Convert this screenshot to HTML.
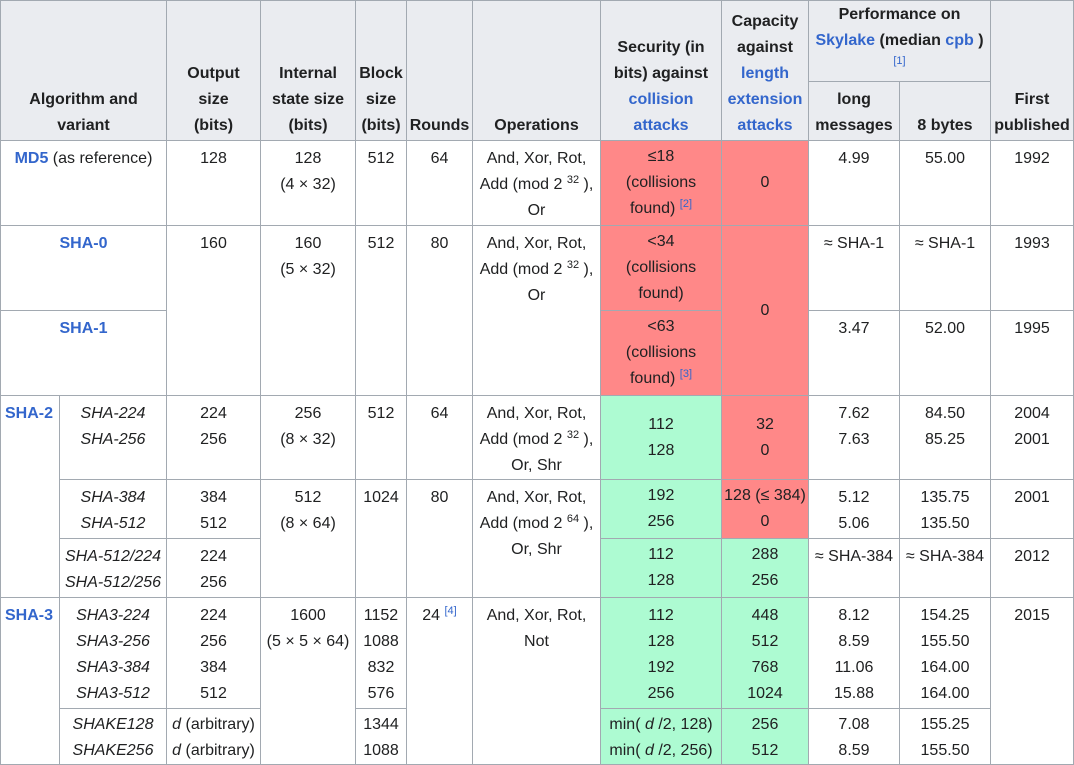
<!DOCTYPE html>
<html><head><meta charset="utf-8">
<style>
body{margin:0;width:1074px;height:764px;overflow:hidden;background:#fff;font-family:"Liberation Sans",sans-serif;font-size:16px;color:#202122}
.c{position:absolute;box-sizing:border-box;border:1px solid #a2a9b1;text-align:center;line-height:26px;padding:5px 2px 0;overflow:hidden;white-space:nowrap}
.h{background:#eaecf0;font-weight:bold;display:flex;flex-direction:column;justify-content:flex-end;padding:0 2px 1px}
.m{display:flex;flex-direction:column;justify-content:center;padding:0 2px}
.r{background:#ff8888}
.g{background:#adfbd2}
a{color:#3366cc;text-decoration:none}
b a,a.b{font-weight:bold}
sup{font-size:11px;line-height:0;vertical-align:6px}
sup a{font-weight:normal}
i{font-style:italic}
</style></head><body>
<!-- header -->
<div class="c h" style="left:0;top:0;width:167px;height:141px">Algorithm and<br>variant</div>
<div class="c h" style="left:166px;top:0;width:95px;height:141px">Output<br>size<br>(bits)</div>
<div class="c h" style="left:260px;top:0;width:96px;height:141px">Internal<br>state size<br>(bits)</div>
<div class="c h" style="left:355px;top:0;width:52px;height:141px">Block<br>size<br>(bits)</div>
<div class="c h" style="left:406px;top:0;width:67px;height:141px">Rounds</div>
<div class="c h" style="left:472px;top:0;width:129px;height:141px">Operations</div>
<div class="c h" style="left:600px;top:0;width:122px;height:141px"><span>Security (in</span><span>bits) against</span><a href="#">collision</a><a href="#">attacks</a></div>
<div class="c h" style="left:721px;top:0;width:88px;height:141px"><span>Capacity</span><span>against</span><a href="#">length</a><a href="#">extension</a><a href="#">attacks</a></div>
<div class="c h" style="left:808px;top:0;width:183px;height:82px;justify-content:flex-start;padding-top:1px"><span>Performance on</span><span><a href="#">Skylake</a> (median <a href="#">cpb</a> )</span><span style="font-size:11px;font-weight:normal;line-height:14px"><a href="#">[1]</a></span></div>
<div class="c h" style="left:808px;top:81px;width:92px;height:60px">long<br>messages</div>
<div class="c h" style="left:899px;top:81px;width:92px;height:60px">8 bytes</div>
<div class="c h" style="left:990px;top:0;width:84px;height:141px">First<br>published</div>

<!-- MD5 -->
<div class="c" style="left:0;top:140px;width:167px;height:86px"><a class="b" href="#">MD5</a> (as reference)</div>
<div class="c" style="left:166px;top:140px;width:95px;height:86px">128</div>
<div class="c" style="left:260px;top:140px;width:96px;height:86px">128<br>(4 × 32)</div>
<div class="c" style="left:355px;top:140px;width:52px;height:86px">512</div>
<div class="c" style="left:406px;top:140px;width:67px;height:86px">64</div>
<div class="c" style="left:472px;top:140px;width:129px;height:86px">And, Xor, Rot,<br>Add (mod 2 <sup>32</sup> ),<br>Or</div>
<div class="c m r" style="left:600px;top:140px;width:122px;height:86px">≤18<br>(collisions<br><span>found) <sup><a href="#">[2]</a></sup></span></div>
<div class="c m r" style="left:721px;top:140px;width:88px;height:86px">0</div>
<div class="c" style="left:808px;top:140px;width:92px;height:86px">4.99</div>
<div class="c" style="left:899px;top:140px;width:92px;height:86px">55.00</div>
<div class="c" style="left:990px;top:140px;width:84px;height:86px">1992</div>

<!-- SHA-0 / SHA-1 -->
<div class="c" style="left:0;top:225px;width:167px;height:86px"><a class="b" href="#">SHA-0</a></div>
<div class="c" style="left:0;top:310px;width:167px;height:86px"><a class="b" href="#">SHA-1</a></div>
<div class="c" style="left:166px;top:225px;width:95px;height:171px">160</div>
<div class="c" style="left:260px;top:225px;width:96px;height:171px">160<br>(5 × 32)</div>
<div class="c" style="left:355px;top:225px;width:52px;height:171px">512</div>
<div class="c" style="left:406px;top:225px;width:67px;height:171px">80</div>
<div class="c" style="left:472px;top:225px;width:129px;height:171px">And, Xor, Rot,<br>Add (mod 2 <sup>32</sup> ),<br>Or</div>
<div class="c m r" style="left:600px;top:225px;width:122px;height:86px">&lt;34<br>(collisions<br>found)</div>
<div class="c m r" style="left:600px;top:310px;width:122px;height:86px">&lt;63<br>(collisions<br><span>found) <sup><a href="#">[3]</a></sup></span></div>
<div class="c m r" style="left:721px;top:225px;width:88px;height:171px">0</div>
<div class="c" style="left:808px;top:225px;width:92px;height:86px">≈ SHA-1</div>
<div class="c" style="left:899px;top:225px;width:92px;height:86px">≈ SHA-1</div>
<div class="c" style="left:990px;top:225px;width:84px;height:86px">1993</div>
<div class="c" style="left:808px;top:310px;width:92px;height:86px">3.47</div>
<div class="c" style="left:899px;top:310px;width:92px;height:86px">52.00</div>
<div class="c" style="left:990px;top:310px;width:84px;height:86px">1995</div>

<!-- SHA-2 -->
<div class="c" style="left:0;top:395px;width:60px;height:203px;text-align:left;padding-left:4px"><a class="b" href="#">SHA-2</a></div>
<div class="c" style="left:59px;top:395px;width:108px;height:85px"><i>SHA-224<br>SHA-256</i></div>
<div class="c" style="left:166px;top:395px;width:95px;height:85px">224<br>256</div>
<div class="c" style="left:260px;top:395px;width:96px;height:85px">256<br>(8 × 32)</div>
<div class="c" style="left:355px;top:395px;width:52px;height:85px">512</div>
<div class="c" style="left:406px;top:395px;width:67px;height:85px">64</div>
<div class="c" style="left:472px;top:395px;width:129px;height:85px">And, Xor, Rot,<br>Add (mod 2 <sup>32</sup> ),<br>Or, Shr</div>
<div class="c m g" style="left:600px;top:395px;width:122px;height:85px">112<br>128</div>
<div class="c m r" style="left:721px;top:395px;width:88px;height:85px">32<br>0</div>
<div class="c" style="left:808px;top:395px;width:92px;height:85px">7.62<br>7.63</div>
<div class="c" style="left:899px;top:395px;width:92px;height:85px">84.50<br>85.25</div>
<div class="c" style="left:990px;top:395px;width:84px;height:85px">2004<br>2001</div>

<div class="c" style="left:59px;top:479px;width:108px;height:60px"><i>SHA-384<br>SHA-512</i></div>
<div class="c" style="left:166px;top:479px;width:95px;height:60px">384<br>512</div>
<div class="c" style="left:260px;top:479px;width:96px;height:119px">512<br>(8 × 64)</div>
<div class="c" style="left:355px;top:479px;width:52px;height:119px">1024</div>
<div class="c" style="left:406px;top:479px;width:67px;height:119px">80</div>
<div class="c" style="left:472px;top:479px;width:129px;height:119px">And, Xor, Rot,<br>Add (mod 2 <sup>64</sup> ),<br>Or, Shr</div>
<div class="c m g" style="left:600px;top:479px;width:122px;height:60px">192<br>256</div>
<div class="c m r" style="left:721px;top:479px;width:88px;height:60px">128 (≤ 384)<br>0</div>
<div class="c" style="left:808px;top:479px;width:92px;height:60px">5.12<br>5.06</div>
<div class="c" style="left:899px;top:479px;width:92px;height:60px">135.75<br>135.50</div>
<div class="c" style="left:990px;top:479px;width:84px;height:60px">2001</div>

<div class="c" style="left:59px;top:538px;width:108px;height:60px"><i>SHA-512/224<br>SHA-512/256</i></div>
<div class="c" style="left:166px;top:538px;width:95px;height:60px">224<br>256</div>
<div class="c m g" style="left:600px;top:538px;width:122px;height:60px">112<br>128</div>
<div class="c m g" style="left:721px;top:538px;width:88px;height:60px">288<br>256</div>
<div class="c" style="left:808px;top:538px;width:92px;height:60px">≈ SHA-384</div>
<div class="c" style="left:899px;top:538px;width:92px;height:60px">≈ SHA-384</div>
<div class="c" style="left:990px;top:538px;width:84px;height:60px">2012</div>

<!-- SHA-3 -->
<div class="c" style="left:0;top:597px;width:60px;height:168px;text-align:left;padding-left:4px"><a class="b" href="#">SHA-3</a></div>
<div class="c" style="left:59px;top:597px;width:108px;height:112px"><i>SHA3-224<br>SHA3-256<br>SHA3-384<br>SHA3-512</i></div>
<div class="c" style="left:166px;top:597px;width:95px;height:112px">224<br>256<br>384<br>512</div>
<div class="c" style="left:260px;top:597px;width:96px;height:168px">1600<br>(5 × 5 × 64)</div>
<div class="c" style="left:355px;top:597px;width:52px;height:112px">1152<br>1088<br>832<br>576</div>
<div class="c" style="left:406px;top:597px;width:67px;height:168px">24 <sup><a href="#">[4]</a></sup></div>
<div class="c" style="left:472px;top:597px;width:129px;height:168px">And, Xor, Rot,<br>Not</div>
<div class="c g" style="left:600px;top:597px;width:122px;height:112px">112<br>128<br>192<br>256</div>
<div class="c g" style="left:721px;top:597px;width:88px;height:112px">448<br>512<br>768<br>1024</div>
<div class="c" style="left:808px;top:597px;width:92px;height:112px">8.12<br>8.59<br>11.06<br>15.88</div>
<div class="c" style="left:899px;top:597px;width:92px;height:112px">154.25<br>155.50<br>164.00<br>164.00</div>
<div class="c" style="left:990px;top:597px;width:84px;height:168px">2015</div>

<div class="c" style="left:59px;top:708px;width:108px;height:57px;padding-top:3px"><i>SHAKE128<br>SHAKE256</i></div>
<div class="c" style="left:166px;top:708px;width:95px;height:57px;padding:3px 0 0"><i>d</i> (arbitrary)<br><i>d</i> (arbitrary)</div>
<div class="c" style="left:355px;top:708px;width:52px;height:57px;padding-top:3px">1344<br>1088</div>
<div class="c g" style="left:600px;top:708px;width:122px;height:57px;padding:3px 0 0">min( <i>d</i> /2, 128)<br>min( <i>d</i> /2, 256)</div>
<div class="c g" style="left:721px;top:708px;width:88px;height:57px;padding-top:3px">256<br>512</div>
<div class="c" style="left:808px;top:708px;width:92px;height:57px;padding-top:3px">7.08<br>8.59</div>
<div class="c" style="left:899px;top:708px;width:92px;height:57px;padding-top:3px">155.25<br>155.50</div>
</body></html>
